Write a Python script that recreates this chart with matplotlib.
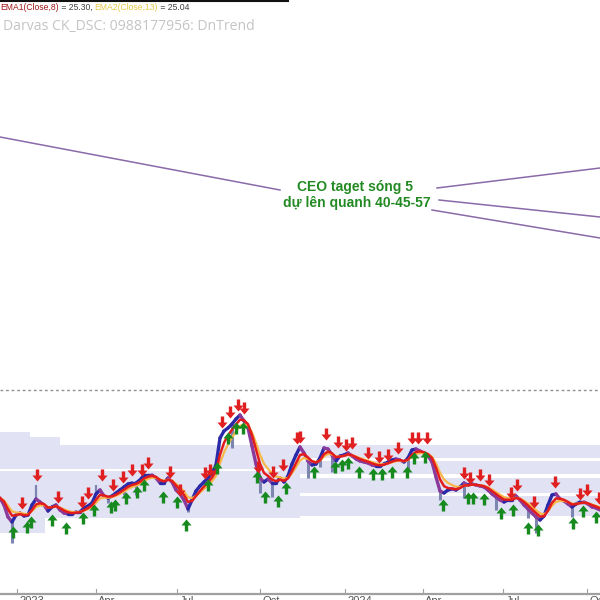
import numpy as np
import pandas as pd
import matplotlib
matplotlib.use("Agg")
import matplotlib.pyplot as plt
from matplotlib.path import Path

# ---------------- data ----------------
close = [26.44, 25.60, 24.16, 23.56, 24.40, 24.64, 24.28, 24.40, 25.60, 26.32,
         25.96, 25.60, 24.88, 25.36, 25.60, 25.00, 24.64, 24.52, 24.52, 24.76,
         24.76, 25.24, 25.48, 25.84, 26.92, 27.40, 26.68, 26.44, 26.68, 27.04,
         27.40, 27.76, 28.12, 28.24, 28.24, 28.60, 29.20, 29.20, 29.20, 28.84,
         28.24, 28.24, 28.84, 28.36, 27.40, 26.92, 26.20, 25.12, 26.20, 27.28,
         27.88, 28.36, 28.84, 29.44, 30.40, 33.64, 34.48, 34.84, 35.32, 35.92,
         36.40, 35.68, 34.84, 32.68, 30.52, 28.84, 28.36, 28.72, 28.24, 28.24,
         28.84, 28.36, 29.08, 30.52, 31.60, 32.56, 31.84, 30.88, 30.40, 30.52,
         31.24, 32.44, 32.32, 31.60, 30.88, 31.48, 31.60, 31.84, 31.48, 31.12,
         30.88, 30.76, 30.64, 30.40, 30.28, 30.28, 30.52, 30.76, 31.00, 31.12,
         31.00, 30.76, 31.24, 32.20, 32.32, 32.08, 31.84, 31.48, 30.76, 28.96,
         27.28, 27.04, 27.40, 27.52, 27.40, 27.76, 28.24, 28.00, 28.12, 28.00,
         27.88, 27.76, 27.40, 26.92, 26.56, 26.20, 25.96, 26.20, 26.20, 26.68,
         26.20, 25.60, 25.12, 24.64, 24.16, 23.80, 24.28, 25.60, 26.80, 26.92,
         26.32, 26.08, 25.72, 25.36, 25.72, 25.96, 25.96, 25.72, 25.36, 25.24,
         25.00]

# lower / upper wicks (bar index, price)
wick_idx = [3, 27, 31, 34, 47, 58, 65, 68, 77, 80, 83, 102, 110, 116, 124, 132, 134, 143]
wick_low = [21.04, 25.84, 26.80, 26.80, 24.76, 32.44, 27.04, 26.56, 28.84, 30.16, 29.56,
            29.80, 26.20, 26.44, 25.00, 24.04, 22.24, 24.16]
spike_idx = [9, 24]
spike_high = [28.00, 28.00]

sell_idx = [5.5, 9.25, 14.5, 20.5, 22, 25.5, 28.25, 30.75, 33, 35.5, 37, 42.5, 45, 51.25,
            52.5, 55.5, 57.5, 59.5, 61, 64.5, 68.25, 70.75, 74.25, 75, 81.5, 84.5, 86.5,
            88, 92, 94.75, 97, 99.5, 103, 104.5, 106.75, 116, 117.5, 120, 122.25, 127.75,
            129.25, 133.5, 138.75, 145, 146.75, 149.75]
sell_px = [25.84, 29.20, 26.56, 25.96, 27.04, 29.20, 28.00, 28.96, 29.80, 29.80, 30.64,
           29.56, 27.40, 29.44, 29.80, 35.56, 36.76, 37.60, 37.24, 30.16, 29.56, 30.40,
           33.64, 33.76, 34.12, 33.16, 32.80, 33.04, 31.84, 31.36, 31.60, 32.44, 33.64,
           33.64, 33.64, 29.44, 28.84, 29.20, 28.60, 27.04, 28.00, 25.96, 28.36, 26.92,
           27.40, 26.44]
buy_idx = [3.25, 6.75, 7.75, 13, 16.5, 20.75, 23.5, 27.75, 28.75, 31.5, 34.25, 36, 40.75,
           44.25, 46.5, 52, 54.25, 57, 59, 60.75, 64.25, 66.25, 69.5, 71.5, 78.5, 83.75,
           85.5, 87, 89.75, 93.25, 95.5, 98, 101.75, 103.5, 106.25, 110.75, 117, 118.25,
           121, 125.25, 128.25, 132, 134.5, 143.25, 145.75, 149]
buy_px = [22.36, 22.96, 23.56, 23.80, 22.84, 24.04, 25.00, 25.36, 25.60, 26.44, 27.16,
          28.00, 26.56, 25.96, 23.20, 28.00, 30.04, 33.64, 34.84, 34.84, 28.96, 26.56,
          26.08, 27.64, 29.56, 30.16, 30.40, 30.64, 29.56, 29.32, 29.32, 29.56, 29.56,
          31.24, 31.36, 25.60, 26.44, 26.44, 26.32, 24.64, 25.00, 22.84, 22.60, 23.44,
          24.88, 24.16]

# Darvas boxes: start idx, end idx, top, bottom
box_start = [0, 7.5, 0, 0, 0, 70, 70, 70, 70]
box_end = [7.5, 15, 75, 75, 11.25, 150, 150, 150, 150]
box_top = [34.36, 33.76, 32.80, 29.68, 24.04, 32.80, 30.88, 28.84, 26.68]
box_bot = [32.80, 32.80, 29.92, 24.04, 22.24, 31.24, 29.32, 27.04, 24.28]

# trend lines toward targets: (x0, p0, x1, p1)
tl_x0 = [0, 109.25, 109.75, 108]
tl_p0 = [69.76, 63.64, 62.20, 61.00]
tl_x1 = [70, 150, 150, 150]
tl_p1 = [63.40, 66.04, 60.16, 57.64]

level_line = 39.40

tick_idx = [4.25, 24, 44.25, 65, 86.25, 105.75, 125.75, 146.75]
tick_lab = ["2023", "Apr", "Jul", "Oct", "2024", "Apr", "Jul", "Oct"]

# ---------------- figure ----------------
fig = plt.figure(figsize=(6, 6), dpi=100)
ax = fig.add_axes([0, 0, 1, 1])
PTOP, PBOT = 86.2, 14.2   # price at top / bottom of figure
ax.set_xlim(0, 150)
ax.set_ylim(PBOT, PTOP)
ax.axis("off")

def ypx(p):   # pixel (from top) -> price, for decorations only
    return PTOP - (PTOP - PBOT) * p / 600.0

# boxes
for s, e, t, b in zip(box_start, box_end, box_top, box_bot):
    ax.fill_between([s, e], [b, b], [t, t], color="#e2e2f5", lw=0, zorder=1)

# dotted level line
ax.axhline(level_line, color="#909090", lw=1, ls=(0, (2, 2)), zorder=2)

# trend lines
for x0, p0, x1, p1 in zip(tl_x0, tl_p0, tl_x1, tl_p1):
    ax.plot([x0, x1], [p0, p1], color="#8a6aa8", lw=1.1, zorder=2)

c = np.array(close)
n = len(c)
idx = np.arange(n)

# wicks
for i, lo in zip(wick_idx, wick_low):
    ax.plot([i, i], [lo, c[i]], color="#7c86b0", lw=2.2, zorder=3, solid_capstyle="butt")
for i, hi in zip(spike_idx, spike_high):
    ax.plot([i, i], [c[i], hi], color="#7c86b0", lw=1.6, zorder=3, solid_capstyle="butt")

# price bars
for i in range(1, n):
    col = "#2a2aa8" if c[i] >= c[i - 1] else "#8a3a9a"
    ax.plot([i - 1, i], [c[i - 1], c[i]], color=col, lw=2.4, zorder=4,
            solid_capstyle="round")

ema8 = pd.Series(c).ewm(span=3, adjust=False).mean()
ema13 = pd.Series(c).ewm(span=5, adjust=False).mean()
ax.plot(idx, ema13, color="#f7b84a", lw=1.6, zorder=5)
ax.plot(idx, ema8, color="#e21c1c", lw=1.8, zorder=6)

# arrows
down = Path([(-0.14, 0.5), (-0.14, 0.0), (-0.42, 0.0), (0, -0.5), (0.42, 0.0),
             (0.14, 0.0), (0.14, 0.5), (-0.14, 0.5)],
            [Path.MOVETO] + [Path.LINETO] * 6 + [Path.CLOSEPOLY])
up = Path([(x, -y) for x, y in down.vertices], down.codes)
ax.scatter(sell_idx, sell_px, marker=down, s=75, color="#e02020", lw=0, zorder=7)
ax.scatter(buy_idx, buy_px, marker=up, s=75, color="#168a1e", lw=0, zorder=7)

# bottom axis
ax.axhline(ypx(594), color="#a0a0a0", lw=1.6, zorder=8)
for t, lab in zip(tick_idx, tick_lab):
    ax.plot([t, t], [ypx(594), ypx(589)], color="#a0a0a0", lw=0.8, zorder=8)
    ax.text(t + 0.6, ypx(596), lab, fontsize=8, color="#555555", ha="left", va="top",
            family="Liberation Sans", zorder=8)

# top black bar
ax.plot([0, 72], [ypx(0.8), ypx(0.8)], color="#111111", lw=1.5, zorder=9, clip_on=False)

# header texts
parts = [("EMA1(Close,8)", "#a01818"), (" = 25.30, ", "#404040"),
         ("EMA2(Close,13)", "#e8c848"), (" = 25.04", "#404040")]
fig.canvas.draw()
renderer = fig.canvas.get_renderer()
x_pos = 0.0
for txt, col in parts:
    tt = fig.text(x_pos, 1 - 7.5 / 600, txt, fontsize=6.2, color=col,
                  family="Liberation Sans", ha="left", va="center")
    bb = tt.get_window_extent(renderer=renderer)
    x_pos += bb.width / 600.0

fig.text(3 / 600, 1 - 26 / 600, "Darvas CK_DSC: 0988177956: DnTrend", fontsize=10.1,
         color="#c4c4c4", family="Open Sans", ha="left", va="center")

ax.text(355 / 4, ypx(187), "CEO taget sóng 5", fontsize=10, color="#238a23",
        fontweight="bold", family="Liberation Sans", ha="center", va="center", zorder=10)
ax.text(357 / 4, ypx(203), "dự lên quanh 40-45-57", fontsize=10, color="#238a23",
        fontweight="bold", family="Liberation Sans", ha="center", va="center", zorder=10)

fig.savefig("out.png", dpi=100, facecolor="white")
